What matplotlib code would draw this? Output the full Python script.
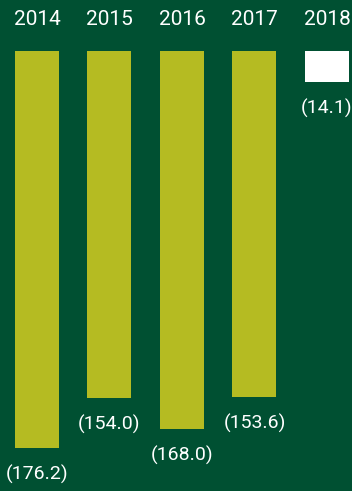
import matplotlib.pyplot as plt

years = ["2014", "2015", "2016", "2017", "2018"]
values = [-176.2, -154.0, -168.0, -153.6, -14.1]
labels = ["(176.2)", "(154.0)", "(168.0)", "(153.6)", "(14.1)"]
bar_colors = ["#b5bb22", "#b5bb22", "#b5bb22", "#b5bb22", "#ffffff"]

BG = "#005032"

plt.rcParams["font.family"] = ["Roboto", "DejaVu Sans"]

fig = plt.figure(figsize=(3.52, 4.91), dpi=100, facecolor=BG)
ax = fig.add_axes([0, 0, 1, 1])
ax.set_facecolor(BG)

x = range(len(years))
ax.bar(x, values, width=0.607, color=bar_colors)

for i, (yr, v, lab) in enumerate(zip(years, values, labels)):
    # year on top of each column
    ax.annotate(yr, xy=(i, 0), xytext=(0, 22), textcoords="offset points",
                ha="center", va="center", color="white", fontsize=15)
    # value below each bar
    ax.annotate(lab, xy=(i, v), xytext=(0, -12), textcoords="offset points",
                ha="center", va="top", color="white", fontsize=14)

ax.set_xlim(-0.51, 4.345)
ax.set_ylim(-195.3, 22.4)
ax.axis("off")

plt.savefig("out.png", dpi=100, facecolor=BG)
